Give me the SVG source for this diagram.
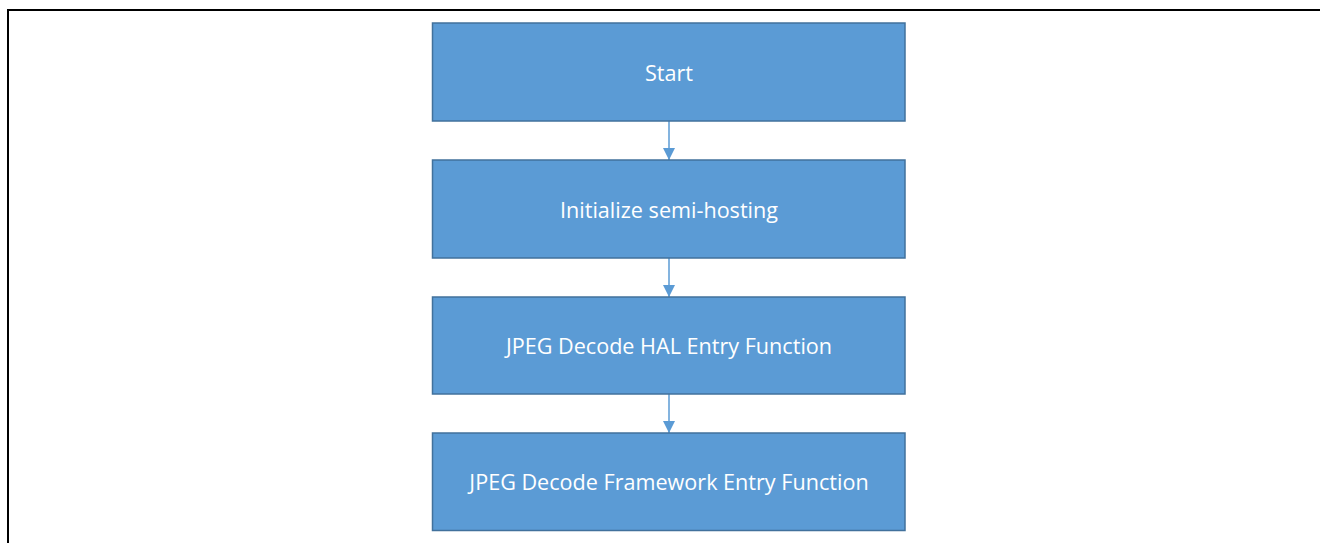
<svg xmlns="http://www.w3.org/2000/svg" width="1320" height="543" viewBox="0 0 1320 543">
<defs>
<style>
.box{fill:#5B9BD5;stroke:#41719C;stroke-width:1.5}
.lbl{fill:#FFFFFF;font-family:"Open Sans","Liberation Sans",sans-serif;font-size:21.6px;text-anchor:middle;dominant-baseline:central}
.conn{stroke:#5B9BD5;stroke-width:1.5;fill:none}
</style>
<marker id="ah" markerWidth="12" markerHeight="12" viewBox="0 0 12 12" refX="12" refY="6" orient="auto" markerUnits="userSpaceOnUse">
<path d="M0,0 L12,6 L0,12 Z" fill="#5B9BD5"/>
</marker>
</defs>
<rect width="1320" height="543" fill="#FFFFFF"/>
<path d="M8,543 L8,10 L1320,10" fill="none" stroke="#000" stroke-width="2"/>
<g id="connectors">
<line class="conn" x1="669" y1="121" x2="669" y2="160" marker-end="url(#ah)"/>
<line class="conn" x1="669" y1="258" x2="669" y2="297" marker-end="url(#ah)"/>
<line class="conn" x1="669" y1="394" x2="669" y2="433" marker-end="url(#ah)"/>
</g>
<g id="start"><rect class="box" x="432.5" y="23" width="472.5" height="98"/><text class="lbl" x="669" y="72">Start</text></g>
<g id="init"><rect class="box" x="432.5" y="160" width="472.5" height="98"/><text class="lbl" x="669" y="209">Initialize semi-hosting</text></g>
<g id="hal"><rect class="box" x="432.5" y="297" width="472.5" height="97"/><text class="lbl" x="669" y="345">JPEG Decode HAL Entry Function</text></g>
<g id="framework"><rect class="box" x="432.5" y="433" width="472.5" height="97.5"/><text class="lbl" x="669" y="481.5">JPEG Decode Framework Entry Function</text></g>
</svg>
